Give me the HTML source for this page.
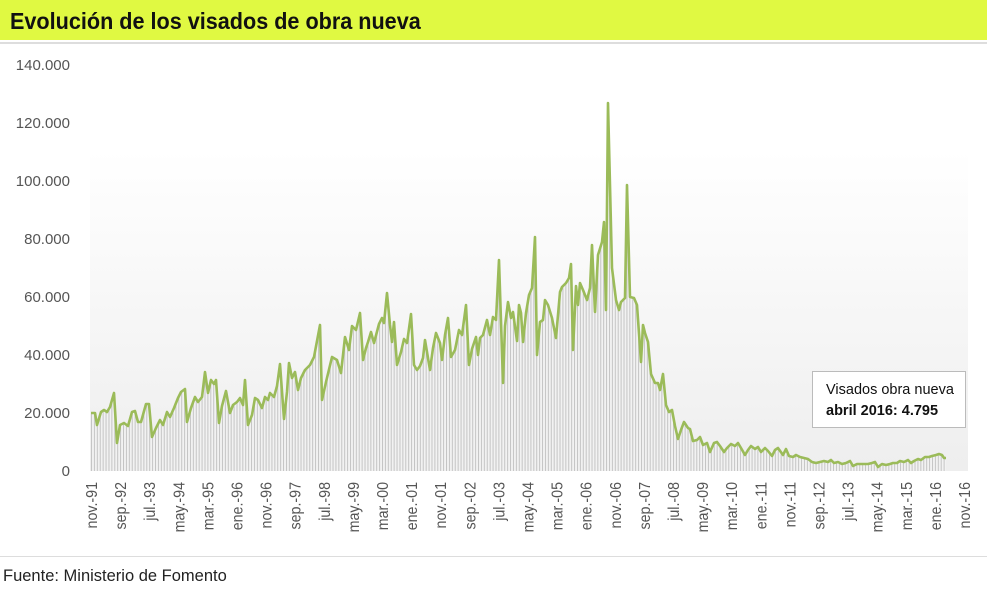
<!DOCTYPE html>
<html><head><meta charset="utf-8"><style>
body{margin:0;width:987px;height:587px;background:#fff;overflow:hidden;font-family:"Liberation Sans",sans-serif;}
</style></head><body>
<svg width="987" height="587" xmlns="http://www.w3.org/2000/svg" font-family="Liberation Sans, sans-serif">
<defs>
<linearGradient id="bg" x1="0" y1="0" x2="0" y2="1">
<stop offset="0" stop-color="#ffffff"/><stop offset="1" stop-color="#eeeeee"/>
</linearGradient>
<pattern id="st" width="2.91" height="10" patternUnits="userSpaceOnUse" x="91">
<rect width="2.91" height="10" fill="#f2f2f2"/><rect x="0" width="1" height="10" fill="#c4c4c4"/>
</pattern>
</defs>
<rect x="0" y="0" width="987" height="40" fill="#e0f942"/>
<rect x="0" y="42" width="987" height="2" fill="#dddddd"/>
<text x="10" y="29" font-size="23" font-weight="bold" fill="#111" transform="translate(10,29) scale(0.94,1) translate(-10,-29)">Evolución de los visados de obra nueva</text>
<rect x="90" y="150" width="878" height="321" fill="url(#bg)"/>
<g fill="#555" font-size="15" text-anchor="end">
<text x="70" y="70">140.000</text><text x="70" y="128">120.000</text><text x="70" y="186">100.000</text>
<text x="70" y="244">80.000</text><text x="70" y="302">60.000</text><text x="70" y="360">40.000</text>
<text x="70" y="418">20.000</text><text x="70" y="476">0</text>
</g>
<g id="area"></g>
<polyline id="ln" fill="none" stroke="#9bbb59" stroke-width="2.6" stroke-linejoin="round" points=""/>
<g id="xl" fill="#555" font-size="15.5" text-anchor="end"></g>
<rect x="812.5" y="371.5" width="153" height="56" fill="#fff" stroke="#bbb"/>
<text x="826" y="394" font-size="14.5" fill="#111">Visados obra nueva</text>
<text x="826" y="415" font-size="14.5" font-weight="bold" fill="#111">abril 2016: 4.795</text>
<rect x="0" y="556" width="987" height="1" fill="#dddddd"/>
<text x="3" y="581" font-size="16.5" fill="#222">Fuente: Ministerio de Fomento</text>
</svg>
<script>
var p=[[91,413],[95,413],[97,425],[101,412],[104,410],[107,412],[110,407],[114,393],[117,443],[120,425],[124,423],[128,426],[132,412],[135,411],[138,422],[141,422],[146,404],[149,404],[152,437],[156,428],[160,420],[163,425],[167,412],[170,417],[174,408],[178,398],[181,392],[185,389],[187,422],[191,408],[195,397],[198,402],[202,397],[205,372],[208,393],[211,380],[214,384],[216,380],[219,423],[222,406],[226,391],[230,413],[233,405],[237,402],[240,398],[243,405],[245,380],[248,425],[252,415],[255,398],[258,400],[262,408],[265,397],[268,400],[270,393],[274,397],[277,386],[280,364],[284,419],[287,392],[289,363],[292,378],[295,372],[298,390],[301,378],[305,370],[310,365],[314,357],[320,325],[322,400],[326,382],[332,357],[337,360],[341,373],[345,337],[349,350],[352,326],[356,330],[360,313],[363,360],[366,348],[368,342],[371,332],[374,343],[379,324],[382,318],[384,323],[387,293],[390,325],[392,342],[394,322],[397,365],[401,352],[404,339],[407,343],[411,314],[414,365],[417,370],[420,366],[423,358],[425,340],[430,370],[433,348],[436,333],[440,343],[442,360],[445,335],[448,318],[451,357],[455,350],[459,330],[462,335],[466,305],[469,365],[472,349],[476,337],[478,355],[480,338],[483,335],[487,320],[490,335],[493,317],[496,320],[499,260],[503,383],[505,326],[508,302],[511,318],[513,312],[517,341],[519,305],[521,313],[523,342],[526,313],[529,295],[532,288],[535,237],[537,355],[540,322],[543,320],[545,300],[548,305],[552,318],[556,338],[560,292],[562,287],[566,283],[569,278],[571,264],[573,350],[576,286],[578,305],[580,283],[583,290],[587,300],[590,288],[592,245],[595,312],[598,255],[602,242],[604,222],[606,310],[608,103],[612,268],[616,300],[619,310],[621,302],[625,298],[627,185],[630,297],[634,298],[637,305],[641,362],[643,325],[645,333],[648,342],[651,374],[655,383],[658,383],[660,390],[663,374],[666,405],[669,412],[672,410],[675,426],[678,439],[681,430],[684,422],[688,428],[690,429],[693,441],[697,440],[700,437],[703,445],[707,443],[710,452],[714,443],[717,442],[720,446],[724,452],[727,448],[731,444],[735,446],[738,443],[741,448],[745,455],[748,450],[751,446],[755,449],[758,447],[761,452],[765,448],[768,451],[772,456],[775,450],[778,448],[783,455],[786,449],[789,456],[793,457],[796,455],[800,457],[804,458],[808,459],[812,462],[816,463],[820,462],[824,461],[828,462],[831,460],[834,463],[838,462],[842,464],[846,463],[850,461],[853,466],[857,464],[860,464],[864,464],[868,464],[872,463],[875,462],[878,467],[882,464],[886,465],[890,464],[893,463],[897,463],[900,461],[904,462],[908,460],[911,463],[914,461],[918,459],[921,460],[925,457],[929,457],[932,456],[936,455],[939,454],[942,455],[944,458],[946,458]];
var s=p.map(function(a){return a.join(",")}).join(" ");
document.getElementById("ln").setAttribute("points",s);
var NS="http://www.w3.org/2000/svg";
var pg=document.createElementNS(NS,"polygon");
pg.setAttribute("points","91,471 "+s+" 946,471");pg.setAttribute("fill","url(#st)");
document.getElementById("area").appendChild(pg);
var L=["nov.-91","sep.-92","jul.-93","may.-94","mar.-95","ene.-96","nov.-96","sep.-97","jul.-98","may.-99","mar.-00","ene.-01","nov.-01","sep.-02","jul.-03","may.-04","mar.-05","ene.-06","nov.-06","sep.-07","jul.-08","may.-09","mar.-10","ene.-11","nov.-11","sep.-12","jul.-13","may.-14","mar.-15","ene.-16","nov.-16"];
var g=document.getElementById("xl");
L.forEach(function(t,i){var x=97+i*29.1;var e=document.createElementNS(NS,"text");
e.setAttribute("transform","translate("+x+",482) rotate(-90) scale(0.92,1)");e.textContent=t;g.appendChild(e);});
</script>
</body></html>
